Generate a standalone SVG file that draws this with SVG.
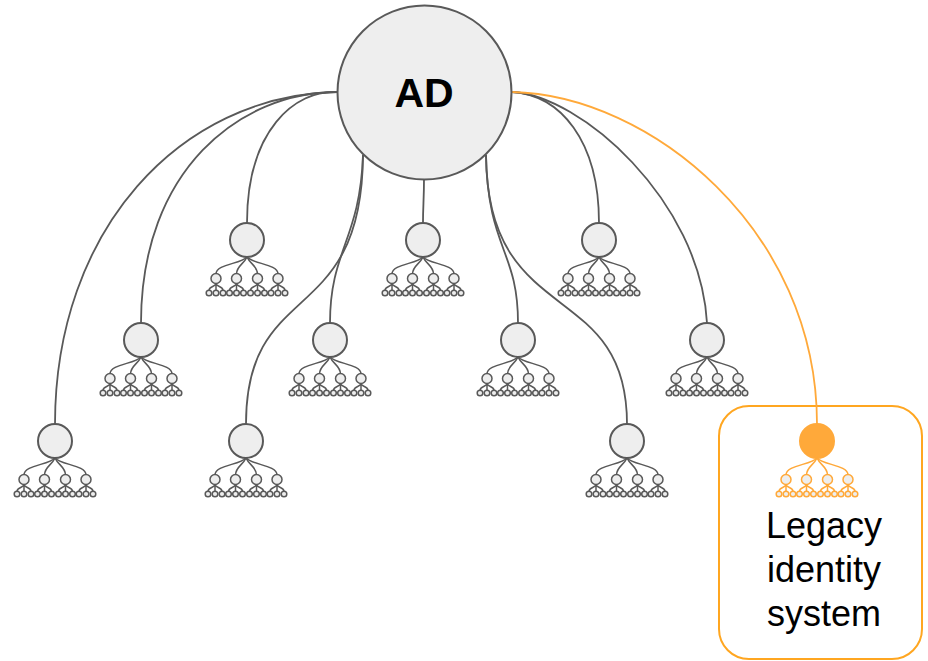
<svg xmlns="http://www.w3.org/2000/svg" xmlns:xlink="http://www.w3.org/1999/xlink" width="928" height="661" viewBox="0 0 928 661">
<style>
.conn{fill:none;stroke:#595959;stroke-width:1.8}
.conn-o{fill:none;stroke:#FFA93A;stroke-width:1.8}
.root{fill:#EEEEEE;stroke:#595959;stroke-width:2}
.root-o{fill:#FFA93A;stroke:#FFA93A;stroke-width:2}
.sub{color:#595959}
.sub-o{color:#FFA93A}
.e{fill:none;stroke:currentColor;stroke-width:1.5}
.c{fill:#EEEEEE;stroke:currentColor;stroke-width:1.5}
.lbl{font-family:"Liberation Sans",Arial,sans-serif;fill:#000}
</style>
<defs>
<g id="subtree">
  <path class="e" d="M0,17 C-6,24 -31,24 -31,34"/>
  <path class="e" d="M0,17 C-3,24 -10.5,26 -10.5,34"/>
  <path class="e" d="M0,17 C3,24 10.5,26 10.5,34"/>
  <path class="e" d="M0,17 C6,24 31,24 31,34"/>
  <path class="e" d="M-31,43 C-31,47 -38,46 -38,50.5 M-31,43 L-31,50.5 M-31,43 C-31,47 -24,46 -24,50.5"/>
  <path class="e" d="M-10.5,43 C-10.5,47 -17.5,46 -17.5,50.5 M-10.5,43 L-10.5,50.5 M-10.5,43 C-10.5,47 -3.5,46 -3.5,50.5"/>
  <path class="e" d="M10.5,43 C10.5,47 3.5,46 3.5,50.5 M10.5,43 L10.5,50.5 M10.5,43 C10.5,47 17.5,46 17.5,50.5"/>
  <path class="e" d="M31,43 C31,47 24,46 24,50.5 M31,43 L31,50.5 M31,43 C31,47 38,46 38,50.5"/>
  <circle class="c" cx="-31" cy="38.5" r="5"/>
  <circle class="c" cx="-10.5" cy="38.5" r="5"/>
  <circle class="c" cx="10.5" cy="38.5" r="5"/>
  <circle class="c" cx="31" cy="38.5" r="5"/>
  <circle class="c" cx="-38" cy="53" r="2.8"/><circle class="c" cx="-31" cy="53" r="2.8"/><circle class="c" cx="-24" cy="53" r="2.8"/>
  <circle class="c" cx="-17.5" cy="53" r="2.8"/><circle class="c" cx="-10.5" cy="53" r="2.8"/><circle class="c" cx="-3.5" cy="53" r="2.8"/>
  <circle class="c" cx="3.5" cy="53" r="2.8"/><circle class="c" cx="10.5" cy="53" r="2.8"/><circle class="c" cx="17.5" cy="53" r="2.8"/>
  <circle class="c" cx="24" cy="53" r="2.8"/><circle class="c" cx="31" cy="53" r="2.8"/><circle class="c" cx="38" cy="53" r="2.8"/>
</g>
</defs>

<rect id="legacy-box" x="719" y="406" width="203" height="253" rx="30" ry="30" fill="#FFFFFF" stroke="#FFA620" stroke-width="2"/>

<g id="connectors">
  <path class="conn" d="M337,92 C180,95 55,230 55,424"/>
  <path class="conn" d="M337,92 C240,92 141,170 141,323"/>
  <path class="conn" d="M337,92 C295,90 247,130 247,223"/>
  <path class="conn" d="M363,155 C362,330 246,277 246,424"/>
  <path class="conn" d="M363,155 C360,240 330,250 330,323"/>
  <path class="conn" d="M424,178 C424,200 423,205 423,223"/>
  <path class="conn" d="M486,155 C488,250 518,250 518,323"/>
  <path class="conn" d="M486,155 C487,330 627,277 627,424"/>
  <path class="conn" d="M512,92 C560,95 599,140 599,223"/>
  <path class="conn" d="M512,92 C580,95 700,200 707,323"/>
  <path class="conn-o" d="M512,92 C650,95 817,230 817,424"/>
</g>

<g id="ad">
  <circle class="root" cx="424.5" cy="92.5" r="87"/>
  <text class="lbl" x="424" y="107" font-size="41" font-weight="bold" text-anchor="middle">AD</text>
</g>

<g id="tree1"><circle class="root" cx="55" cy="441" r="17"/><use href="#subtree" x="55" y="441" class="sub"/></g>
<g id="tree2"><circle class="root" cx="141" cy="340" r="17"/><use href="#subtree" x="141" y="340" class="sub"/></g>
<g id="tree3"><circle class="root" cx="247" cy="240" r="17"/><use href="#subtree" x="247" y="240" class="sub"/></g>
<g id="tree4"><circle class="root" cx="246" cy="441" r="17"/><use href="#subtree" x="246" y="441" class="sub"/></g>
<g id="tree5"><circle class="root" cx="330" cy="340" r="17"/><use href="#subtree" x="330" y="340" class="sub"/></g>
<g id="tree6"><circle class="root" cx="423" cy="240" r="17"/><use href="#subtree" x="423" y="240" class="sub"/></g>
<g id="tree7"><circle class="root" cx="518" cy="340" r="17"/><use href="#subtree" x="518" y="340" class="sub"/></g>
<g id="tree8"><circle class="root" cx="627" cy="441" r="17"/><use href="#subtree" x="627" y="441" class="sub"/></g>
<g id="tree9"><circle class="root" cx="599" cy="240" r="17"/><use href="#subtree" x="599" y="240" class="sub"/></g>
<g id="tree10"><circle class="root" cx="707" cy="340" r="17"/><use href="#subtree" x="707" y="340" class="sub"/></g>

<g id="legacy">
  <circle class="root-o" cx="817" cy="441" r="17"/>
  <use href="#subtree" x="817" y="441" class="sub-o"/>
  <text class="lbl" font-size="36" text-anchor="middle"><tspan x="824" y="538">Legacy</tspan><tspan x="824" y="582">identity</tspan><tspan x="824" y="626">system</tspan></text>
</g>
</svg>
